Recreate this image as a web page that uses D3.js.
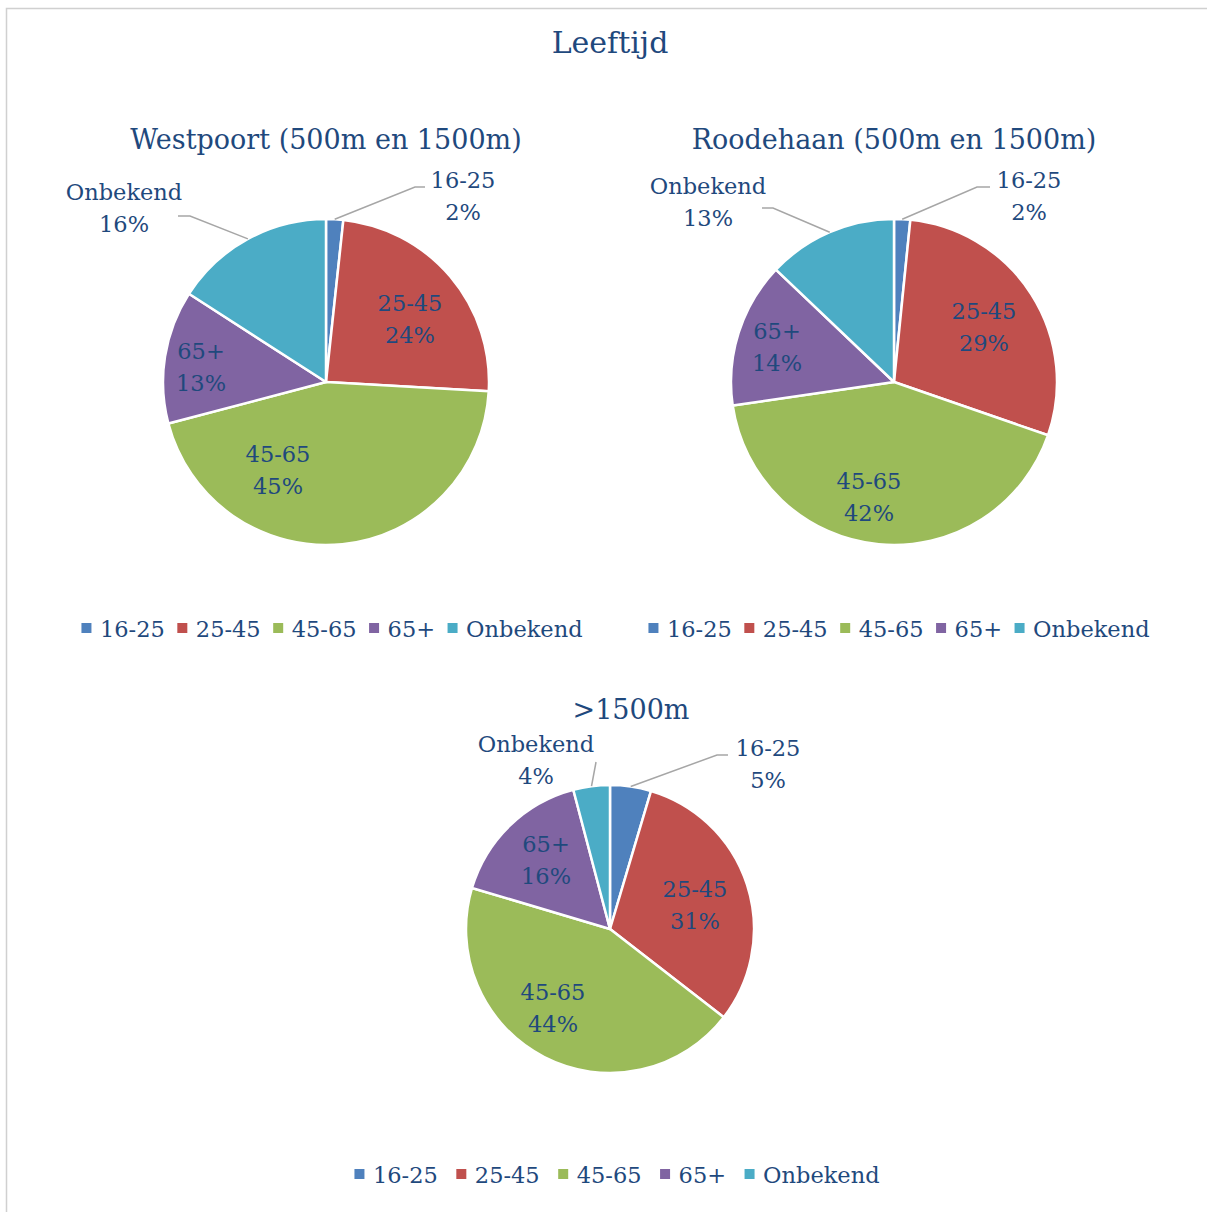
<!DOCTYPE html>
<html>
<head>
<meta charset="utf-8">
<script src="https://cdn.jsdelivr.net/npm/d3@7"></script>
<style>
  html, body { margin: 0; padding: 0; background: #fff; }
  svg { display: block; }
  text { font-family: "DejaVu Serif", "Liberation Serif", serif; fill: #1f497d; }
</style>
</head>
<body>
<svg id="chart" width="1207" height="1212"></svg>
<script>
// ========================
// Data
// ========================
const categories = ["16-25", "25-45", "45-65", "65+", "Onbekend"];
const colors = ["#4f81bd", "#c0504d", "#9bbb59", "#8064a2", "#4bacc6"];

const chartTitles = ["Westpoort (500m en 1500m)", "Roodehaan (500m en 1500m)", ">1500m"];
const westpoortValues = [1.7, 24.2, 45.0, 13.2, 15.9];
const roodehaanValues = [1.6, 28.7, 42.4, 14.4, 12.9];
const verValues = [4.6, 30.9, 44.1, 16.3, 4.1];
const seriesValues = [westpoortValues, roodehaanValues, verValues];

// ========================
// Layout (positions only)
// ========================
const layouts = [
    {
        cx: 326, cy: 382, r: 163, titleY: 149, legendCx: 332, legendY: 637, legendGap: 12.5,
        labels: [
            { x: 137, y: -194, elbow: [89, -195], stub: [99, -195] },
            { x: 84, y: -71 },
            { x: -48, y: 80 },
            { x: -125, y: -23 },
            { x: -202, y: -182, elbow: [-136, -166], stub: [-148, -166] }
        ]
    },
    {
        cx: 894, cy: 382, r: 163, titleY: 149, legendCx: 899, legendY: 637, legendGap: 12.5,
        labels: [
            { x: 135, y: -194, elbow: [83, -195], stub: [96, -195] },
            { x: 90, y: -63 },
            { x: -25, y: 107 },
            { x: -117, y: -43 },
            { x: -186, y: -188, elbow: [-121, -174], stub: [-132, -174] }
        ]
    },
    {
        cx: 610, cy: 929, r: 144, titleY: 719, titleX: 631, legendCx: 617, legendY: 1183, legendGap: 18.5,
        labels: [
            { x: 158, y: -173, elbow: [107, -174], stub: [118, -174] },
            { x: 85, y: -32 },
            { x: -57, y: 71 },
            { x: -64, y: -77 },
            { x: -74, y: -177, elbow: [-14, -167], stub: [-14, -167] }
        ]
    }
];

const svg = d3.select("#chart");

// Frame
svg.append("path")
    .attr("d", "M6.5,1212 V8.5 H1207")
    .attr("fill", "none")
    .attr("stroke", "#d0d0d0")
    .attr("stroke-width", 1.5);

// Main title
svg.append("text")
    .attr("x", 610)
    .attr("y", 53)
    .attr("text-anchor", "middle")
    .style("font-size", "30px")
    .text("Leeftijd");

const colorScale = d3.scaleOrdinal().domain(categories).range(colors);
const pie = d3.pie().sort(null).value(d => d.value);
const lineH = 32;

seriesValues.forEach((values, i) => {
    const L = layouts[i];
    const data = categories.map((c, k) => ({ cat: c, value: values[k] }));
    const total = d3.sum(data, d => d.value);
    const arcs = pie(data);
    const arc = d3.arc().innerRadius(0).outerRadius(L.r);

    const g = svg.append("g").attr("transform", `translate(${L.cx},${L.cy})`);

    // Chart title
    svg.append("text")
        .attr("x", L.titleX || L.cx)
        .attr("y", L.titleY)
        .attr("text-anchor", "middle")
        .style("font-size", "27px")
        .text(chartTitles[i]);

    // Slices
    g.selectAll("path.slice")
        .data(arcs)
        .enter()
        .append("path")
        .attr("class", "slice")
        .attr("d", arc)
        .attr("fill", d => colorScale(d.data.cat))
        .attr("stroke", "#fff")
        .attr("stroke-width", 2.5)
        .attr("stroke-linejoin", "round");

    // Leader lines for outside labels
    arcs.forEach((d, k) => {
        const lab = L.labels[k];
        if (!lab.elbow) return;
        const mid = (d.startAngle + d.endAngle) / 2;
        const p0 = [L.r * Math.sin(mid), -L.r * Math.cos(mid)];
        g.append("polyline")
            .attr("points", [p0, lab.elbow, lab.stub].map(p => p.join(",")).join(" "))
            .attr("fill", "none")
            .attr("stroke", "#a6a6a6")
            .attr("stroke-width", 1.5);
    });

    // Data labels
    arcs.forEach((d, k) => {
        const lab = L.labels[k];
        const t = g.append("text")
            .attr("text-anchor", "middle")
            .style("font-size", "22.5px");
        t.append("tspan").attr("x", lab.x).attr("y", lab.y).text(d.data.cat);
        t.append("tspan").attr("x", lab.x).attr("y", lab.y + lineH)
            .text(Math.round(d.data.value / total * 100) + "%");
    });

    // Legend
    const leg = svg.append("g");
    const sq = 10, sqGap = 8.5;
    const items = categories.map(c => {
        const it = leg.append("g");
        it.append("rect")
            .attr("width", sq).attr("height", sq)
            .attr("y", -sq - 4)
            .attr("fill", colorScale(c));
        const tx = it.append("text")
            .attr("x", sq + sqGap)
            .attr("y", 0)
            .style("font-size", "22.5px")
            .text(c);
        return { g: it, w: sq + sqGap + tx.node().getComputedTextLength() };
    });
    const totalW = d3.sum(items, d => d.w) + L.legendGap * (items.length - 1);
    let x = L.legendCx - totalW / 2;
    items.forEach(it => {
        it.g.attr("transform", `translate(${x},${L.legendY})`);
        x += it.w + L.legendGap;
    });
});
</script>
</body>
</html>
